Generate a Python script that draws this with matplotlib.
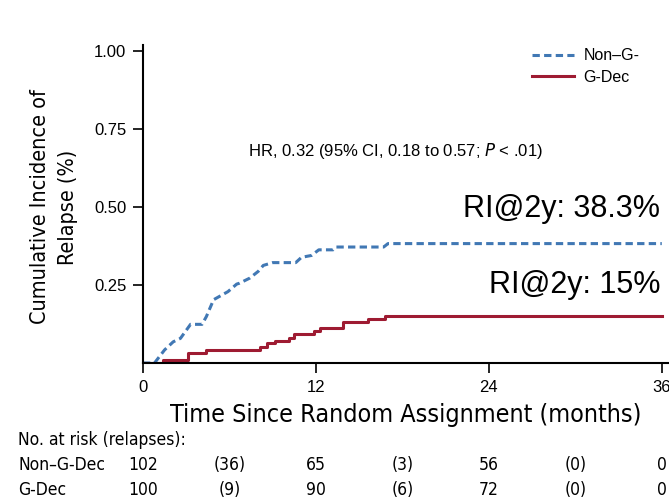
import matplotlib
matplotlib.use("Agg")
import matplotlib.pyplot as plt
import matplotlib.transforms as mtransforms

# cumulative incidence curves (months, proportion relapsed)
non_gdec_t = [0, 0.8, 1.5, 2.1, 2.6, 3.3, 4.1, 4.4, 4.9, 5.9, 6.5, 6.7, 7.4, 8.0, 8.35, 9.0,
              10.6, 11.0, 11.7, 12.2, 13.2, 13.4, 16.7, 17.0, 36]
non_gdec_ci = [0, 0, 0.042, 0.068, 0.079, 0.124, 0.124, 0.149, 0.203, 0.229, 0.253, 0.256, 0.272,
               0.294, 0.313, 0.322, 0.322, 0.339, 0.345, 0.363, 0.363, 0.372, 0.372, 0.383, 0.383]

gdec_t = [0, 1.4, 3.1, 4.4, 8.1, 8.6, 9.15, 10.1, 10.5, 11.9, 12.3, 13.9, 15.6, 16.8, 36]
gdec_ci = [0, 0.010, 0.031, 0.042, 0.052, 0.063, 0.072, 0.081, 0.093, 0.103, 0.111, 0.130,
           0.140, 0.151, 0.151]

ri_2y = {"Non-G-Dec": 38.3, "G-Dec": 15}

# number at risk table
risk_times = [0, 6, 12, 18, 24, 30, 36]
risk_rows = ["Non\u2013G-Dec", "G-Dec"]
risk_non_gdec = ["102", "(36)", "65", "(3)", "56", "(0)", "0"]
risk_gdec = ["100", "(9)", "90", "(6)", "72", "(0)", "0"]

x_ticks = [0, 12, 24, 36]
y_ticks = [0.25, 0.50, 0.75, 1.00]

BLUE = "#4178b4"
RED = "#9e1b32"

plt.rcParams["font.family"] = ["Liberation Sans", "DejaVu Sans"]
cond = dict(family="DejaVu Sans", fontstretch="condensed")

fig = plt.figure(figsize=(6.69, 5.0), dpi=100)
ax = fig.add_axes([0.2137, 0.274, 0.7863, 0.636])

ax.plot(non_gdec_t, non_gdec_ci, color=BLUE, lw=2.2, dashes=(2.4, 1.4), label="Non\u2013G-")
ax.plot(gdec_t, gdec_ci, color=RED, lw=2.2, drawstyle="steps-post", label="G-Dec")

ax.set_xlim(0, 36.5)
ax.set_ylim(0, 1.02)
ax.set_xticks(x_ticks)
ax.set_yticks(y_ticks)
ax.set_yticklabels([f"{v:.2f}" for v in y_ticks], fontsize=12)
ax.set_xticklabels([str(v) for v in x_ticks], fontsize=12)
ax.tick_params(direction="out", length=7, width=1.2, pad=5)
for side in ["top", "right"]:
    ax.spines[side].set_visible(False)
ax.spines["left"].set_linewidth(1.5)
ax.spines["bottom"].set_linewidth(1.5)

ax.set_xlabel("Time Since Random Assignment (months)", fontsize=18, labelpad=6, **cond)
fig.text(54 / 669, 1 - 207 / 500, "Cumulative Incidence of\nRelapse (%)", rotation=90,
         fontsize=15.5, ha="center", va="center", linespacing=1.55, **cond)

leg = ax.legend(loc="upper left", bbox_to_anchor=(0.713, 1.035), frameon=False, fontsize=11.5,
                handlelength=2.6, labelspacing=0.4, handletextpad=0.6)

ax.text(0.2, 0.668, "HR, 0.32 (95% CI, 0.18 to 0.57; $\\it{P}$ < .01)", transform=ax.transAxes,
        fontsize=12, va="center", ha="left")
ax.text(35.9, ri_2y["Non-G-Dec"] / 100 + 0.062, f"RI@2y: {ri_2y['Non-G-Dec']}%", fontsize=22,
        ha="right", va="bottom")
ax.text(35.9, ri_2y["G-Dec"] / 100 + 0.051, f"RI@2y: {ri_2y['G-Dec']}%", fontsize=22,
        ha="right", va="bottom")

# risk table below the axis, columns aligned with the time axis
trans = mtransforms.blended_transform_factory(ax.transData, fig.transFigure)
fig.text(18 / 669, 1 - 440 / 500, "No. at risk (relapses):", fontsize=12.5, va="center",
         ha="left", **cond)
for row_y, label, vals in [(465, risk_rows[0], risk_non_gdec), (490, risk_rows[1], risk_gdec)]:
    yf = 1 - row_y / 500
    fig.text(18 / 669, yf, label, fontsize=12.5, va="center", ha="left", **cond)
    for t, v in zip(risk_times, vals):
        ax.text(t, yf, v, transform=trans, fontsize=12.5, va="center", ha="center",
                clip_on=False, **cond)

fig.savefig("out.png", dpi=100)
